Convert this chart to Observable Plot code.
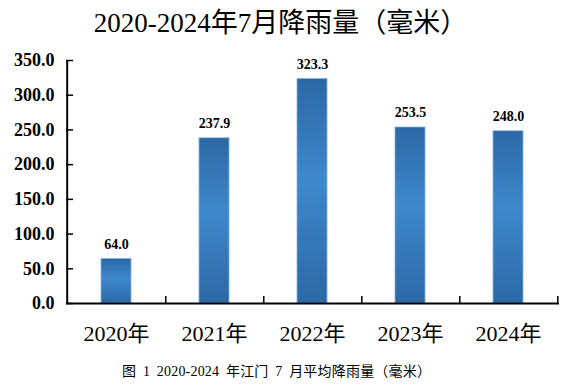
<!DOCTYPE html>
<html>
<head>
<meta charset="utf-8">
<script src="https://cdn.jsdelivr.net/npm/d3@7"></script>
<script src="https://cdn.jsdelivr.net/npm/@observablehq/plot@0.6"></script>
<style>
  html, body { margin: 0; padding: 0; background: #fff; }
  body { width: 567px; height: 392px; overflow: hidden; font-family: "Liberation Serif", "Noto Sans CJK SC", serif; }
  #title { height: 46px; line-height: 46px; text-align: center; font-size: 27px; color: #000; padding-right: 6px; }
  #caption { font-size: 14px; line-height: 16px; color: #000; padding-left: 122px; margin-top: 12px; word-spacing: 3px; letter-spacing: 0.2px; }
</style>
</head>
<body>
<div id="title">2020-2024年7月降雨量（毫米）</div>
<div id="chart"></div>
<div id="caption">图 1 2020-2024 年江门 7 月平均降雨量（毫米）</div>
<script>
const categories = ["2020年", "2021年", "2022年", "2023年", "2024年"];
const values = [64.0, 237.9, 323.3, 253.5, 248.0];
const yTicks = [0, 50, 100, 150, 200, 250, 300, 350];

const data = categories.map((c, i) => ({category: c, value: values[i]}));

const W = 567;
const mL = 66, mR = 8;
const frameW = W - mL - mR;
const step = frameW / categories.length;

const chart = Plot.plot({
  width: W,
  height: 306,
  marginTop: 14,
  marginBottom: 49,
  marginLeft: mL,
  marginRight: mR,
  style: {fontFamily: '"Liberation Serif", "Noto Sans CJK SC", serif', color: "#000", background: "#fff"},
  x: {domain: categories, paddingInner: 0.69, paddingOuter: 0.345, label: null},
  y: {domain: [0, 350], label: null},
  marks: [
    Plot.barY(data, {x: "category", y: "value", fill: "url(#barGrad)", stroke: "#7fb2e3", strokeWidth: 0.8}),
    Plot.text(data, {x: "category", y: "value", text: d => d.value.toFixed(1), lineAnchor: "bottom", dy: -10,
      fontSize: 14, fontWeight: "bold", fill: "#000"}),
    Plot.axisY({ticks: yTicks, tickSize: 0, tickPadding: 12, tickFormat: d => d.toFixed(1),
      fontSize: 18, fontWeight: "bold"}),
    Plot.tickY(yTicks, {y: d => d, insetRight: frameW - 7, stroke: "#000", strokeWidth: 1.5}),
    Plot.ruleX([0], {x: () => categories[0], dx: -step / 2, y1: 0, y2: 350, stroke: "#000", strokeWidth: 2}),
    Plot.ruleX(categories, {x: d => d, dx: step / 2, y1: 0, y2: 10, stroke: "#000", strokeWidth: 1.5}),
    Plot.ruleY([0], {stroke: "#000", strokeWidth: 2}),
    Plot.axisX({tickSize: 0, tickPadding: 22, fontSize: 22})
  ]
});

const defs = d3.create("svg:defs");
const grad = defs.append("linearGradient").attr("id", "barGrad").attr("x1", 0).attr("y1", 0).attr("x2", 0).attr("y2", 1);
grad.append("stop").attr("offset", "0%").attr("stop-color", "#2c68a5");
grad.append("stop").attr("offset", "45%").attr("stop-color", "#3e88cc");
grad.append("stop").attr("offset", "100%").attr("stop-color", "#2c68a5");
chart.insertBefore(defs.node(), chart.firstChild);

document.getElementById("chart").appendChild(chart);
</script>
</body>
</html>
